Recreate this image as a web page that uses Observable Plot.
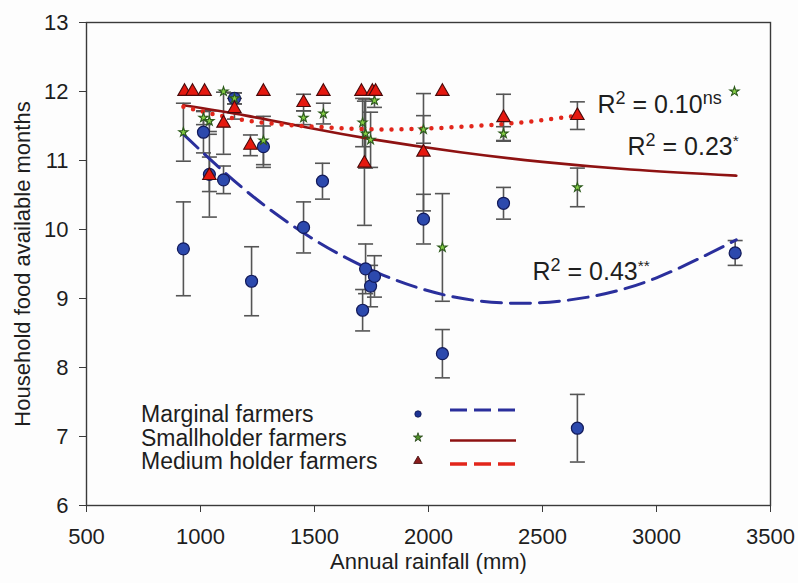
<!DOCTYPE html>
<html><head><meta charset="utf-8">
<script src="https://cdn.jsdelivr.net/npm/d3@7"></script>
<script src="https://cdn.jsdelivr.net/npm/@observablehq/plot@0.6"></script>
<style>
html,body{margin:0;padding:0;background:#fdfdfd;}
#chart svg{display:block;}
</style></head><body><div id="chart"></div>
<script>
// ---- Data ----
// Marginal farmers (blue circles)
const marginalRain   = [925, 1013, 1039, 1101, 1149, 1224, 1276, 1452, 1535, 1711, 1724, 1746, 1763, 1978, 2061, 2329, 2653, 3345];
const marginalMonths = [9.72, 11.41, 10.80, 10.72, 11.90, 9.25, 11.20, 10.03, 10.70, 8.83, 9.43, 9.18, 9.32, 10.15, 8.20, 10.38, 7.12, 9.66];
const marginalErr    = [0.68, 0.30, 0.25, 0.20, 0.08, 0.50, 0.30, 0.37, 0.26, 0.30, 0.36, 0.30, 0.30, 0.36, 0.35, 0.23, 0.49, 0.18];
// Smallholder farmers (green stars)
const smallRain   = [925, 1013, 1039, 1101, 1149, 1276, 1452, 1539, 1711, 1724, 1746, 1763, 1978, 2061, 2329, 2653, 3342];
const smallMonths = [11.41, 11.62, 11.57, 12.0, 11.90, 11.29, 11.62, 11.68, 11.55, 11.39, 11.30, 11.87, 11.45, 9.74, 11.39, 10.61, 12.0];
const smallErr    = [0.42, 0.10, 0.15, 0, 0.08, 0.35, 0.10, 0.15, 0.35, 0.50, 0.40, 0.10, 0.20, 0.78, 0.10, 0.28, 0];
// Medium holder farmers (red triangles)
const mediumRain   = [930, 965, 1018, 1039, 1101, 1149, 1219, 1276, 1452, 1539, 1706, 1719, 1754, 1768, 1978, 2061, 2329, 2653];
const mediumMonths = [12, 12, 12, 10.78, 11.54, 11.75, 11.22, 12, 11.84, 12, 12, 10.96, 12, 12, 11.12, 12, 11.62, 11.65];
const mediumErr    = [0, 0, 0, 0.60, 0.45, 0.15, 0.15, 0, 0.12, 0, 0, 0.90, 0, 0, 0.85, 0, 0.34, 0.20];
// Fitted trend curves
const marginalFitRain = [925, 1200, 1500, 1800, 2100, 2400, 2700, 3000, 3350];
const marginalFit     = [11.38, 10.56, 9.85, 9.34, 9.03, 8.93, 9.02, 9.30, 9.85];
const smallFitRain = [925, 1200, 1480, 1750, 2140, 2500, 2886, 3350];
const smallFit     = [11.80, 11.65, 11.47, 11.31, 11.12, 10.98, 10.87, 10.78];
const mediumFitRain = [925, 1200, 1500, 1800, 2100, 2400, 2653];
const mediumFit     = [11.78, 11.58, 11.49, 11.45, 11.48, 11.55, 11.65];
// R² annotations
const r2Values = ["0.10", "0.23", "0.43"];
const r2Sig    = ["ns", "*", "**"];
// Axis ticks and labels
const xTicks = [500, 1000, 1500, 2000, 2500, 3000, 3500];
const yTicks = [6, 7, 8, 9, 10, 11, 12, 13];
const xTitle = "Annual rainfall (mm)";
const yTitle = "Household food available months";
const legendLabels = ["Marginal farmers", "Smallholder farmers", "Medium holder farmers"];

// ---- Build tables ----
const rows = (xs, ys, es) => xs.map((x, i) => ({x, y: ys[i], e: es ? es[i] : 0}));
const marginal = rows(marginalRain, marginalMonths, marginalErr);
const small = rows(smallRain, smallMonths, smallErr);
const medium = rows(mediumRain, mediumMonths, mediumErr);
const marginalCurve = rows(marginalFitRain, marginalFit);
const smallCurve = rows(smallFitRain, smallFit);
const mediumCurve = rows(mediumFitRain, mediumFit);
const allPts = [...marginal, ...small, ...medium].filter(d => d.e > 0);
const caps = allPts.flatMap(d => [{x: d.x, y: d.y - d.e}, {x: d.x, y: d.y + d.e}]);
const r2Rows = [
  {label: "R2 = " + r2Values[0] + r2Sig[0], x: 2741, y: 11.80},
  {label: "R2 = " + r2Values[1] + r2Sig[1], x: 2873, y: 11.20},
  {label: "R2 = " + r2Values[2] + r2Sig[2], x: 2456, y: 9.38}
];

const FONT = "'Liberation Sans', Arial, Helvetica, sans-serif";
const capSymbol = {draw(ctx, size) { const r = Math.sqrt(size / Math.PI); ctx.moveTo(-r, 0); ctx.lineTo(r, 0); }};

const C = {
  axis: "#3a3a3a", err: "#555555",
  blueFill: "#2c49ad", blueStroke: "#121a5a", blueLine: "#2a2f9c",
  starFill: "#86d046", starStroke: "#2d5a1c",
  triFill: "#e5180f", triStroke: "#4a0a0a",
  maroon: "#8e1212", red: "#e2261b"
};

const plot = Plot.plot({
  width: 798, height: 583,
  marginTop: 22, marginRight: 28, marginBottom: 78, marginLeft: 86,
  style: {fontFamily: FONT, background: "#fdfdfd", color: "#1e1e1e"},
  x: {domain: [500, 3500]},
  y: {domain: [6, 13]},
  marks: [
    Plot.axisX({ticks: xTicks, tickFormat: d3.format("d"), tickSize: 7, tickPadding: 16, fontSize: 22, label: null, stroke: C.axis}),
    Plot.axisY({ticks: yTicks, tickFormat: d3.format("d"), tickSize: 7, tickPadding: 11, fontSize: 22, label: null, stroke: C.axis}),
    Plot.frame({stroke: C.axis, strokeWidth: 1.4}),
    Plot.text([xTitle], {text: d => d, frameAnchor: "bottom", textAnchor: "middle", dy: 63, fontSize: 22}),
    Plot.text([yTitle], {text: d => d, frameAnchor: "left", textAnchor: "middle", dx: -64, rotate: -90, fontSize: 22}),
    // error bars
    Plot.ruleX(allPts, {x: "x", y1: d => d.y - d.e, y2: d => d.y + d.e, stroke: C.err, strokeWidth: 1.6}),
    Plot.dot(caps, {x: "x", y: "y", symbol: capSymbol, r: 7.5, fill: "none", stroke: C.err, strokeWidth: 1.6}),
    // trend curves
    Plot.line(smallCurve, {x: "x", y: "y", curve: "natural", stroke: C.maroon, strokeWidth: 2.6}),
    Plot.line(mediumCurve, {x: "x", y: "y", curve: "natural", stroke: C.red, strokeWidth: 4.5, strokeDasharray: "0,10", strokeLinecap: "round"}),
    Plot.line(marginalCurve, {x: "x", y: "y", curve: "natural", stroke: C.blueLine, strokeWidth: 3, strokeDasharray: "20,9"}),
    // markers
    Plot.dot(marginal, {x: "x", y: "y", r: 6, fill: C.blueFill, stroke: C.blueStroke, strokeWidth: 1.2}),
    Plot.dot(small, {x: "x", y: "y", symbol: "star", r: 2.9, fill: C.starFill, stroke: C.starStroke, strokeWidth: 1.1}),
    Plot.dot(medium, {x: "x", y: "y", symbol: "triangle", r: 5, fill: C.triFill, stroke: C.triStroke, strokeWidth: 1.1}),
    // R² annotations
    Plot.text(r2Rows, {x: "x", y: "y", text: "label", textAnchor: "start", fontSize: 25, fill: "#1e1e1e", className: "r2lab"})
  ]
});

// Superscripts for the R² labels
const svg = d3.select(plot);
svg.selectAll(".r2lab text").each(function(d, i) {
  const t = d3.select(this);
  t.text(null);
  t.append("tspan").text("R");
  t.append("tspan").attr("dy", -9).attr("font-size", "0.72em").text("2");
  t.append("tspan").attr("dy", 9).text(" = " + r2Values[i]);
  t.append("tspan").attr("dy", -9).attr("font-size", r2Sig[i] === "ns" ? "0.72em" : "0.62em").text(r2Sig[i]);
});

// Legend (drawn in pixel layout inside the same SVG)
const leg = svg.append("g").attr("font-family", FONT).attr("font-size", 23).attr("fill", "#1e1e1e").attr("text-anchor", "start");
const legRowY = [414, 437.5, 461];
const legLineY = [410, 440.5, 464];
leg.selectAll("text").data(legendLabels).join("text")
  .attr("x", 141).attr("y", (d, i) => legRowY[i]).attr("dy", "0.35em").text(d => d);
const legSym = [
  {type: d3.symbolCircle, size: Math.PI * 3.2 * 3.2, fill: "#1d3394", stroke: "#0e1650"},
  {type: d3.symbolStar, size: 26, fill: "#4f8f2a", stroke: "#1f3d12"},
  {type: d3.symbolTriangle, size: 32, fill: "#8a1c1c", stroke: "#3a0808"}
];
legSym.forEach((s, i) => {
  leg.append("path").attr("d", d3.symbol(s.type, s.size)())
    .attr("transform", `translate(418,${legRowY[i]})`)
    .attr("fill", s.fill).attr("stroke", s.stroke).attr("stroke-width", 0.8);
});
const legLines = [
  {stroke: C.blueLine, dash: "17,7", w: 3},
  {stroke: C.maroon, dash: null, w: 2.6},
  {stroke: C.red, dash: "17,7", w: 3.5}
];
legLines.forEach((l, i) => {
  const ln = leg.append("line").attr("x1", 450).attr("x2", 516)
    .attr("y1", legLineY[i]).attr("y2", legLineY[i])
    .attr("stroke", l.stroke).attr("stroke-width", l.w);
  if (l.dash) ln.attr("stroke-dasharray", l.dash);
});

document.getElementById("chart").appendChild(plot);
</script>
</body></html>
